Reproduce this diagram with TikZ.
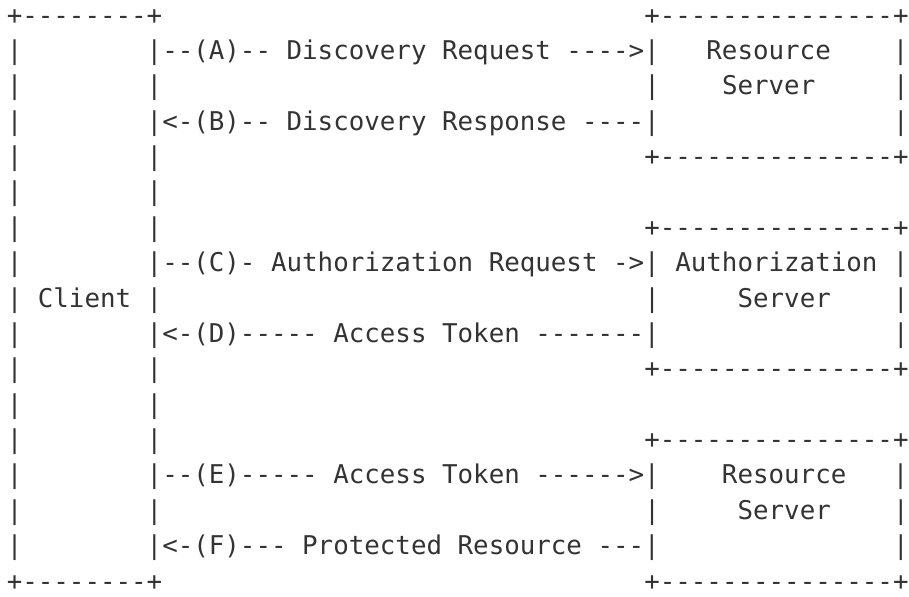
\documentclass[tikz,border=0pt]{standalone}
\usepackage{fontspec}
\setmonofont{DejaVu Sans Mono}
\usepackage{tikz}
\usetikzlibrary{positioning}
\definecolor{ink}{HTML}{333333}
\newcommand{\asciiskip}[1]{\hspace*{#1\fontcharwd\font`x}}

\begin{document}
\begin{tikzpicture}[x=0.75pt, y=-0.75pt,
  row/.style={anchor=base west, inner sep=0pt, text=ink,
    font=\ttfamily\fontsize{19.37pt}{21pt}\selectfont}]
  \useasboundingbox (0,0) rectangle (909,596);

  % Discovery with the first resource server
  \node[row] (r1)  at (6.5, 24.00) {+--------+\asciiskip{31}+---------------+};
  \node[row] (r2)  at (6.5, 59.38) {|\asciiskip{8}|--(A)-- Discovery Request ---->|\asciiskip{3}Resource\asciiskip{4}|};
  \node[row] (r3)  at (6.5, 94.75) {|\asciiskip{8}|\asciiskip{31}|\asciiskip{4}Server\asciiskip{5}|};
  \node[row] (r4)  at (6.5,130.13) {|\asciiskip{8}|<-(B)-- Discovery Response ----|\asciiskip{15}|};
  \node[row] (r5)  at (6.5,165.50) {|\asciiskip{8}|\asciiskip{31}+---------------+};
  \node[row] (r6)  at (6.5,200.88) {|\asciiskip{8}|};

  % Token from the authorization server
  \node[row] (r7)  at (6.5,236.25) {|\asciiskip{8}|\asciiskip{31}+---------------+};
  \node[row] (r8)  at (6.5,271.63) {|\asciiskip{8}|--(C)- Authorization Request ->| Authorization |};
  \node[row] (r9)  at (6.5,307.00) {| Client |\asciiskip{31}|\asciiskip{5}Server\asciiskip{4}|};
  \node[row] (r10) at (6.5,342.38) {|\asciiskip{8}|<-(D)----- Access Token -------|\asciiskip{15}|};
  \node[row] (r11) at (6.5,377.75) {|\asciiskip{8}|\asciiskip{31}+---------------+};
  \node[row] (r12) at (6.5,413.13) {|\asciiskip{8}|};

  % Access to the protected resource
  \node[row] (r13) at (6.5,448.50) {|\asciiskip{8}|\asciiskip{31}+---------------+};
  \node[row] (r14) at (6.5,483.88) {|\asciiskip{8}|--(E)----- Access Token ------>|\asciiskip{4}Resource\asciiskip{3}|};
  \node[row] (r15) at (6.5,519.25) {|\asciiskip{8}|\asciiskip{31}|\asciiskip{5}Server\asciiskip{4}|};
  \node[row] (r16) at (6.5,554.63) {|\asciiskip{8}|<-(F)--- Protected Resource ---|\asciiskip{15}|};
  \node[row] (r17) at (6.5,590.00) {+--------+\asciiskip{31}+---------------+};
\end{tikzpicture}
\end{document}
